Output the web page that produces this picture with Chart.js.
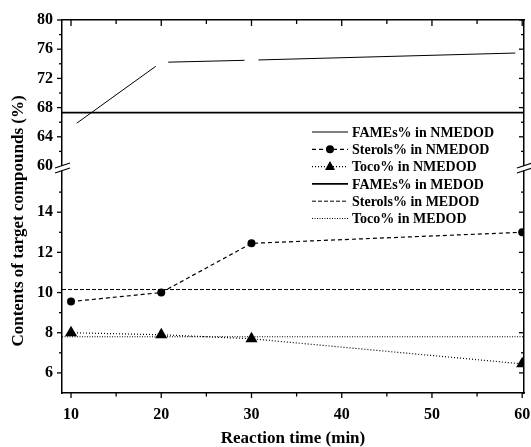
<!DOCTYPE html>
<html>
<head>
<meta charset="utf-8">
<script src="https://cdn.jsdelivr.net/npm/chart.js@4/dist/chart.umd.min.js"></script>
<style>
  html, body { margin: 0; padding: 0; background: #fff; }
  #wrap { width: 531px; height: 447px; }
</style>
</head>
<body>
<div id="wrap"><canvas id="chart" width="531" height="447"></canvas></div>
<script>
// values
const times = [10, 20, 30, 60];
const famesNmedod = [65.3, 74.2, 74.5, 75.5];
const sterolsNmedod = [9.55, 10.0, 12.45, 13.0];
const tocoNmedod = [8.0, 7.9, 7.7, 6.45];
const famesMedod = 67.3;
const sterolsMedod = 10.15;
const tocoMedod = 7.8;

// axes
const xRange = [9, 60.2];
const xTicks = [10, 15, 20, 25, 30, 35, 40, 45, 50, 55, 60];
const yTopTicks = [60, 62, 64, 66, 68, 70, 72, 74, 76, 78, 80];
const yBotTicks = [6, 7, 8, 9, 10, 11, 12, 13, 14, 15];

const serif = "'Liberation Serif', 'Times New Roman', serif";
const tickFont = { family: serif, weight: 'bold', size: 16 };

const pts = (xs, ys) => xs.map((x, i) => ({ x: x, y: ys[i] }));
const flat = v => xRange.map(x => ({ x: x, y: v }));

const datasets = [
  { label: 'FAMEs% in NMEDOD', yAxisID: 'yTop', data: pts(times, famesNmedod),
    borderColor: '#000', borderWidth: 1, pointRadius: 7, pointBackgroundColor: '#fff',
    pointBorderWidth: 0, legendPoint: null },
  { label: 'Sterols% in NMEDOD', yAxisID: 'yBot', data: pts(times, sterolsNmedod),
    borderColor: '#000', borderWidth: 1.2, borderDash: [4, 3], pointRadius: 4,
    pointBackgroundColor: '#000', pointBorderWidth: 0, legendPoint: 'circle' },
  { label: 'Toco% in NMEDOD', yAxisID: 'yBot', data: pts(times, tocoNmedod),
    borderColor: '#000', borderWidth: 1.2, borderDash: [1, 2], pointStyle: 'triangle',
    pointRadius: 7, pointBackgroundColor: '#000', pointBorderWidth: 0, legendPoint: 'triangle' },
  { label: 'FAMEs% in MEDOD', yAxisID: 'yTop', data: flat(famesMedod),
    borderColor: '#000', borderWidth: 1.8, pointRadius: 0, legendPoint: null },
  { label: 'Sterols% in MEDOD', yAxisID: 'yBot', data: flat(sterolsMedod),
    borderColor: '#000', borderWidth: 1, borderDash: [4, 2], pointRadius: 0, legendPoint: null },
  { label: 'Toco% in MEDOD', yAxisID: 'yBot', data: flat(tocoMedod),
    borderColor: '#000', borderWidth: 1, borderDash: [1, 1.5], pointRadius: 0, legendPoint: null }
];

// ticks, axis breaks, y title and legend
const decorations = {
  id: 'decorations',
  afterDraw(chart) {
    const ctx = chart.ctx;
    const s = chart.scales;
    const area = chart.chartArea;
    ctx.save();
    ctx.strokeStyle = '#000';
    ctx.fillStyle = '#000';
    ctx.lineWidth = 1.3;

    const ticks = (pos, at, vals, isMajor, len, minLen) => {
      vals.forEach(v => {
        const p = pos(v);
        const l = isMajor(v) ? len : minLen;
        ctx.beginPath();
        ctx.moveTo(p.x, p.y);
        ctx.lineTo(p.x + l * at[0], p.y + l * at[1]);
        ctx.stroke();
      });
    };
    const xMaj = v => v % 10 === 0;
    ticks(v => ({ x: s.x.getPixelForValue(v), y: area.bottom }), [0, 1], xTicks, xMaj, 5, 3.5);
    ticks(v => ({ x: s.x.getPixelForValue(v), y: area.top }), [0, 1], xTicks, xMaj, 6, 4);
    [area.left, area.right].forEach(xa => {
      ticks(v => ({ x: xa, y: s.yTop.getPixelForValue(v) }), [-1, 0], yTopTicks.slice(1), v => v % 4 === 0, 5, 3);
      ticks(v => ({ x: xa, y: s.yBot.getPixelForValue(v) }), [-1, 0], yBotTicks, v => v % 2 === 0, 5, 3);
    });

    // axis breaks
    const yb = s.yTop.bottom;
    [area.left, area.right].forEach(xa => {
      ctx.fillStyle = '#fff';
      ctx.fillRect(xa - 2, yb, 4, 4.5);
      ctx.fillStyle = '#000';
      ctx.lineWidth = 1.3;
      ctx.beginPath();
      ctx.moveTo(xa - 7, yb + 2); ctx.lineTo(xa + 8, yb - 3);
      ctx.moveTo(xa - 7, yb + 7); ctx.lineTo(xa + 8, yb + 2);
      ctx.stroke();
    });

    // y title
    ctx.save();
    ctx.translate(19, 221);
    ctx.rotate(-Math.PI / 2);
    ctx.font = 'bold 17px ' + serif;
    ctx.textAlign = 'center';
    ctx.textBaseline = 'middle';
    ctx.fillText('Contents of target compounds (%)', 0, 0);
    ctx.restore();

    // legend
    ctx.font = 'bold 14px ' + serif;
    ctx.textAlign = 'left';
    ctx.textBaseline = 'middle';
    chart.data.datasets.forEach((ds, i) => {
      const y = 132 + i * 17.3;
      ctx.save();
      ctx.lineWidth = ds.borderWidth;
      ctx.setLineDash(ds.borderDash || []);
      ctx.beginPath();
      ctx.moveTo(312, y); ctx.lineTo(348, y);
      ctx.stroke();
      ctx.restore();
      if (ds.legendPoint === 'circle') {
        ctx.beginPath(); ctx.arc(330, y, 4, 0, Math.PI * 2); ctx.fill();
      } else if (ds.legendPoint === 'triangle') {
        ctx.beginPath();
        ctx.moveTo(330, y - 5.5); ctx.lineTo(335, y + 3.5); ctx.lineTo(325, y + 3.5);
        ctx.closePath(); ctx.fill();
      }
      ctx.fillText(ds.label, 352, y + 1);
    });
    ctx.restore();
  }
};

const hiddenTicks = { display: false };
const noGrid = { display: false, drawTicks: false };
const axisBorder = { color: '#000', width: 1.5, z: 1 };
const noSidePad = sc => { sc.paddingLeft = 0; sc.paddingRight = 0; sc.paddingTop = 0; sc.paddingBottom = 0; };

new Chart(document.getElementById('chart'), {
  type: 'line',
  data: { datasets: datasets },
  options: {
    responsive: false,
    animation: false,
    devicePixelRatio: 1,
    layout: { padding: 0 },
    plugins: { legend: { display: false }, tooltip: { enabled: false } },
    scales: {
      x: {
        type: 'linear', position: 'bottom', min: xRange[0], max: xRange[1],
        afterBuildTicks: sc => { sc.ticks = xTicks.map(v => ({ value: v })); },
        ticks: { callback: v => (v % 10 === 0 ? v : ''), font: tickFont, color: '#000',
                 padding: 12, autoSkip: false, maxRotation: 0 },
        grid: noGrid, border: axisBorder,
        title: { display: true, text: 'Reaction time (min)', color: '#000',
                 font: { family: serif, weight: 'bold', size: 17, lineHeight: 1 },
                 padding: { top: 0, bottom: 0 } },
        afterFit: sc => { sc.height = 54; noSidePad(sc); }
      },
      xTop: {
        type: 'linear', position: 'top', min: xRange[0], max: xRange[1],
        ticks: hiddenTicks, grid: noGrid, border: axisBorder,
        afterFit: sc => { sc.height = 20; noSidePad(sc); }
      },
      yBot: {
        type: 'linear', position: 'left', stack: 'left', stackWeight: 227, min: 5, max: 16.3,
        afterBuildTicks: sc => { sc.ticks = yBotTicks.map(v => ({ value: v })); },
        ticks: { callback: v => (v % 2 === 0 && v <= 14 ? v : ''), font: tickFont, color: '#000',
                 padding: 9, autoSkip: false },
        grid: noGrid, border: axisBorder,
        afterFit: sc => { sc.width = 62; noSidePad(sc); }
      },
      yTop: {
        type: 'linear', position: 'left', stack: 'left', stackWeight: 146, min: 60, max: 80,
        afterBuildTicks: sc => { sc.ticks = yTopTicks.map(v => ({ value: v })); },
        ticks: { callback: v => (v % 4 === 0 ? v : ''), font: tickFont, color: '#000',
                 padding: 9, autoSkip: false },
        grid: noGrid, border: axisBorder,
        afterFit: sc => { sc.width = 62; noSidePad(sc); }
      },
      yTopR: {
        type: 'linear', position: 'right', stack: 'right', stackWeight: 146, min: 60, max: 80,
        ticks: hiddenTicks, grid: noGrid, border: axisBorder,
        afterFit: sc => { sc.width = 3; noSidePad(sc); }
      },
      yBotR: {
        type: 'linear', position: 'right', stack: 'right', stackWeight: 227, min: 5, max: 16.3,
        ticks: hiddenTicks, grid: noGrid, border: axisBorder,
        afterFit: sc => { sc.width = 3; noSidePad(sc); }
      }
    }
  },
  plugins: [decorations]
});
</script>
</body>
</html>
